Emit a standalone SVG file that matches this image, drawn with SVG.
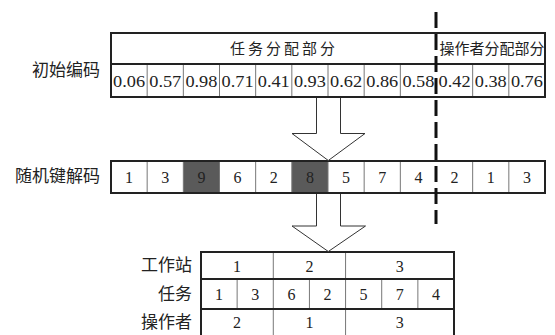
<svg xmlns="http://www.w3.org/2000/svg" width="555" height="335" viewBox="0 0 555 335">
<style>
.lbl{font-family:"Liberation Serif","Noto Sans CJK SC",serif;font-size:17px;fill:#222;}
.hd{font-family:"Liberation Serif","Noto Sans CJK SC",serif;font-size:15px;fill:#222;}
.num{font-family:"Liberation Serif","Noto Sans CJK SC",serif;font-size:16px;fill:#222;text-anchor:middle;dominant-baseline:central;}
.outer{fill:none;stroke:#222;stroke-width:2;}
.inner{stroke:#777;stroke-width:1;fill:none;}
.dark{fill:#5a5a5a;}
.arrow{fill:#fff;stroke:#333;stroke-width:1;}
.dash{stroke:#111;stroke-width:3;stroke-dasharray:16 6;fill:none;}
</style>
<rect width="555" height="335" fill="#fff"/>

<g id="labels">
<text class="lbl" x="100" y="70" text-anchor="end" dominant-baseline="central">初始编码</text>
<text class="lbl" x="100" y="176" text-anchor="end" dominant-baseline="central">随机键解码</text>
<text class="lbl" x="192" y="265.5" text-anchor="end" dominant-baseline="central">工作站</text>
<text class="lbl" x="192" y="294" text-anchor="end" dominant-baseline="central">任务</text>
<text class="lbl" x="192" y="322" text-anchor="end" dominant-baseline="central">操作者</text>
</g>

<g id="initial-code">
<g class="inner">
<line x1="147.17" y1="64" x2="147.17" y2="97"/><line x1="183.33" y1="64" x2="183.33" y2="97"/>
<line x1="219.5" y1="64" x2="219.5" y2="97"/><line x1="255.67" y1="64" x2="255.67" y2="97"/>
<line x1="291.83" y1="64" x2="291.83" y2="97"/><line x1="328" y1="64" x2="328" y2="97"/>
<line x1="364.17" y1="64" x2="364.17" y2="97"/><line x1="400.33" y1="64" x2="400.33" y2="97"/>
<line x1="472.67" y1="64" x2="472.67" y2="97"/><line x1="508.83" y1="64" x2="508.83" y2="97"/>
</g>
<rect class="outer" x="111" y="33" width="434" height="64"/>
<line x1="111" y1="64" x2="545" y2="64" stroke="#222" stroke-width="2"/>
<text class="hd" x="284" y="49" text-anchor="middle" dominant-baseline="central" letter-spacing="3">任务分配部分</text>
<text class="hd" x="492" y="49" text-anchor="middle" dominant-baseline="central" font-size="14">操作者分配部分</text>
<g class="num">
<text x="129.08" y="81" textLength="32" lengthAdjust="spacingAndGlyphs">0.06</text>
<text x="165.25" y="81" textLength="32" lengthAdjust="spacingAndGlyphs">0.57</text>
<text x="201.42" y="81" textLength="32" lengthAdjust="spacingAndGlyphs">0.98</text>
<text x="237.58" y="81" textLength="32" lengthAdjust="spacingAndGlyphs">0.71</text>
<text x="273.75" y="81" textLength="32" lengthAdjust="spacingAndGlyphs">0.41</text>
<text x="309.92" y="81" textLength="32" lengthAdjust="spacingAndGlyphs">0.93</text>
<text x="346.08" y="81" textLength="32" lengthAdjust="spacingAndGlyphs">0.62</text>
<text x="382.25" y="81" textLength="32" lengthAdjust="spacingAndGlyphs">0.86</text>
<text x="418.42" y="81" textLength="32" lengthAdjust="spacingAndGlyphs">0.58</text>
<text x="454.58" y="81" textLength="32" lengthAdjust="spacingAndGlyphs">0.42</text>
<text x="490.75" y="81" textLength="32" lengthAdjust="spacingAndGlyphs">0.38</text>
<text x="526.92" y="81" textLength="32" lengthAdjust="spacingAndGlyphs">0.76</text>
</g>
</g>

<g id="random-key-decode">
<rect class="dark" x="183.33" y="161" width="36.17" height="32"/>
<rect class="dark" x="291.83" y="161" width="36.17" height="32"/>
<g class="inner">
<line x1="147.17" y1="161" x2="147.17" y2="193"/><line x1="183.33" y1="161" x2="183.33" y2="193"/>
<line x1="219.5" y1="161" x2="219.5" y2="193"/><line x1="255.67" y1="161" x2="255.67" y2="193"/>
<line x1="291.83" y1="161" x2="291.83" y2="193"/><line x1="328" y1="161" x2="328" y2="193"/>
<line x1="364.17" y1="161" x2="364.17" y2="193"/><line x1="400.33" y1="161" x2="400.33" y2="193"/>
<line x1="472.67" y1="161" x2="472.67" y2="193"/><line x1="508.83" y1="161" x2="508.83" y2="193"/>
</g>
<rect class="outer" x="111" y="161" width="434" height="32"/>
<g class="num">
<text x="129.08" y="177">1</text><text x="165.25" y="177">3</text><text x="201.42" y="177">9</text>
<text x="237.58" y="177">6</text><text x="273.75" y="177">2</text><text x="309.92" y="177">8</text>
<text x="346.08" y="177">5</text><text x="382.25" y="177">7</text><text x="418.42" y="177">4</text>
<text x="454.58" y="177">2</text><text x="490.75" y="177">1</text><text x="526.92" y="177">3</text>
</g>
</g>

<g id="result-table">
<g class="inner">
<line x1="237.14" y1="279" x2="237.14" y2="309"/>
<line x1="273.29" y1="252" x2="273.29" y2="335"/>
<line x1="309.43" y1="279" x2="309.43" y2="309"/>
<line x1="345.57" y1="252" x2="345.57" y2="335"/>
<line x1="381.71" y1="279" x2="381.71" y2="309"/>
<line x1="417.86" y1="279" x2="417.86" y2="309"/>
</g>
<path class="outer" d="M201,336 V252 H454 V336"/>
<line x1="201" y1="279" x2="454" y2="279" stroke="#222" stroke-width="2"/>
<line x1="201" y1="309" x2="454" y2="309" stroke="#222" stroke-width="2"/>
<g class="num">
<text x="237.1" y="266">1</text><text x="309.4" y="266">2</text><text x="399.8" y="266">3</text>
<text x="219.1" y="294.5">1</text><text x="255.2" y="294.5">3</text><text x="291.4" y="294.5">6</text>
<text x="327.5" y="294.5">2</text><text x="363.6" y="294.5">5</text><text x="399.8" y="294.5">7</text>
<text x="435.9" y="294.5">4</text>
<text x="237.1" y="322.5">2</text><text x="309.4" y="322.5">1</text><text x="399.8" y="322.5">3</text>
</g>
</g>

<g id="connectors">
<path class="arrow" d="M316.5,98 V133.5 H292 L328.3,160.5 L365,133.5 H340.5 V98"/>
<path class="arrow" d="M316.5,194 V226 H292 L328.3,251.5 L365.5,226 H340.5 V194"/>
<line class="dash" x1="436" y1="12" x2="436" y2="224"/>
</g>
</svg>
